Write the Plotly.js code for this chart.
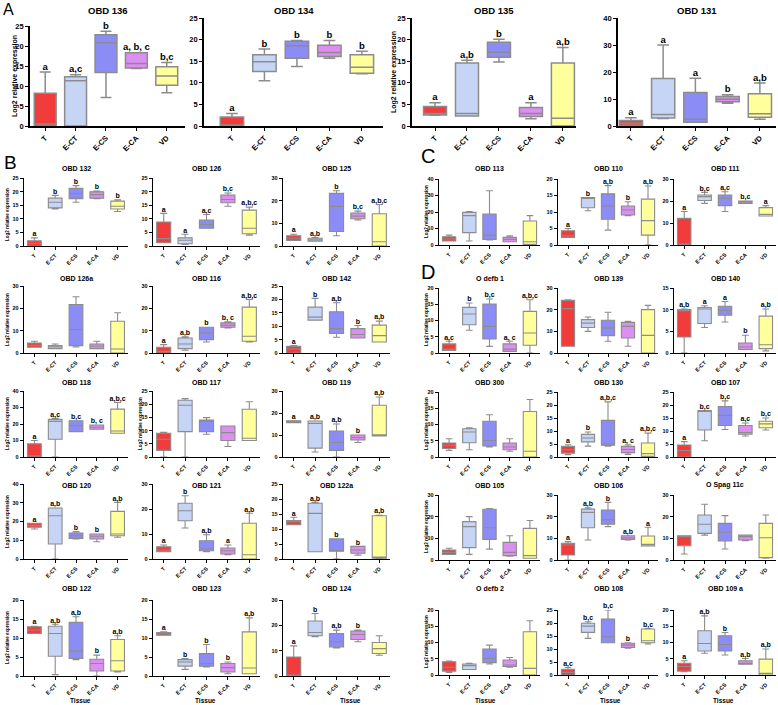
<!DOCTYPE html>
<html><head><meta charset="utf-8">
<script src="https://cdn.plot.ly/plotly-3.0.1.min.js"></script>
<style>html,body{margin:0;padding:0;background:#fff}</style>
</head><body><div id="chart" style="width:778px;height:705px"></div>
<script>
const categories = ['T', 'E-CT', 'E-CS', 'E-CA', 'VD'];
const genes = ['OBD 136','OBD 134','OBD 135','OBD 131',
  'OBD 132','OBD 126','OBD 125','OBD 126a','OBD 116','OBD 142','OBD 118','OBD 117','OBD 119',
  'OBD 120','OBD 121','OBD 122a','OBD 122','OBD 123','OBD 124',
  'OBD 113','OBD 110','OBD 111',
  'O defb 1','OBD 139','OBD 140','OBD 300','OBD 130','OBD 107','OBD 105','OBD 106','O Spag 11c',
  'O defb 2','OBD 108','OBD 109 a'];
const yMax = [25,25,25,40, 25,25,30,30,30,25,40,25,30,40,30,25,20,20,30, 40,20,30, 20,30,15,20,25,25,30,30,30,20,25,20];
const yStep = [5,5,5,10, 5,5,10,10,10,5,10,5,10,10,10,5,5,5,10, 10,5,10, 5,10,5,5,5,5,10,10,10,5,5,5];

// whisker low, Q1, median, Q3, whisker high — one row per gene, columns follow categories
const whiskerLow = [
  [0,0,7.1,14.4,8.3],[0,10.5,13.8,15.7,12.1],[2.5,2.3,14.8,1.7,0],[0,2.8,1.4,8.4,2.5],
  [0,13.6,16.1,17.4,12.7],[1.2,0.6,6.5,14.6,4.0],[2.5,2.1,4.5,11.5,0],[2.55,1.95,2.7,1.95,0],
  [0,1.2,4.95,11.25,4.95],[0,12.25,5.9,5.6,4.1],[0,0,15.4,16.8,14.4],[0,0,8.6,4,6.25],
  [15.6,2.25,0,6.6,9.6],[16,0,10.7,9.2,11.6],[2.9,12.4,2.9,1.7,0],[11.4,2.4,0,1.3,0],
  [11.2,0.35,4.3,0,1.05],[10.75,1.75,2.4,0.6,0.6],[0,15.5,11.1,13.5,8.2],
  [2.4,2.4,3,2,0.4],[2.3,10.4,4.5,8.9,0],[0,18.9,15.2,18.9,13.2],
  [0.8,7.0,2.05,0.5,0],[3.1,10,5.4,3.1,0],[0,5.9,7.15,0.8,0.5],[2.05,2.25,3.1,1.75,0],
  [0.9,4.2,4.2,1.0,0],[0,6.25,10.6,8.1,10.4],[2.6,2.6,5,1.8,0.8],[0,9.2,15.4,9.2,6.5],
  [2.8,11.5,5.1,8.9,0.8],[0.8,1.7,3.4,2.4,0],[0,14.1,12.4,10.3,11.9],[1.0,6.7,6.15,3.3,0]];
const quart1 = [
  [0,0,13.4,14.5,10.2],[0,12.6,15.7,16.1,12.2],[2.55,2.3,15.9,2.2,0],[0.25,3.0,1.4,9.0,3.2],
  [0,14,17.4,17.6,13.6],[1.2,0.85,6.5,15.9,4.5],[2.5,2.1,6.4,12,0],[2.55,1.95,3.3,1.95,0],
  [0,1.95,6,11.55,5.25],[0,12.25,7.25,5.6,4.1],[0,10.8,15.4,16.8,14.4],[2.5,9.6,9.6,6.25,6.25],
  [15.6,4.05,3,7.8,9.6],[16.9,8,11,10.7,12.4],[2.9,15.3,3.3,2,0],[11.4,2.4,2.6,1.9,0.3],
  [11.2,5.2,4.6,1.3,1.3],[10.75,2.6,2.6,1.05,0.6],[0,15.9,11.5,14.4,8.9],
  [2.4,7.5,3.4,2,0.4],[2.3,11.3,7.8,9.1,3],[0,20.2,17.9,18.9,13.2],
  [0.8,8.7,4.3,0.5,2.4],[3.1,11.8,8,6.9,0],[3.7,6.8,8.7,0.8,1.0],[2.6,4.4,3.4,2.25,0],
  [1.5,5.8,4.5,1.7,0.25],[0,10.4,12.1,8.75,11.25],[2.6,5.7,9.5,2,0.8],[2.3,14.9,16.5,9.5,6.5],
  [6.6,12.3,8.8,9.2,1.1],[1.2,1.7,3.8,2.6,0],[0,16.4,12.4,10.6,12.4],[1.2,7.4,7.4,3.3,0]];
const medians = [
  [0.5,11.3,20.8,15.6,12.5],[0.2,14.9,18.6,17.0,13.6],[2.9,2.9,17.1,2.9,1.8],[1.0,4.3,2.5,9.9,4.5],
  [0.9,16.1,19.3,18.9,14.6],[2.7,2.1,7.9,17.1,6.5],[3.4,2.7,17.5,13.2,1.9],[3.45,2.7,10.5,3.0,1.8],
  [0.75,4.05,9,12.45,7.5],[1.5,13.4,9.1,6.9,6.5],[0.8,21.6,19,18,15.8],[6.75,19.6,13.6,9.25,7.1],
  [16,15.3,6.6,8.85,9.75],[17.8,23.1,12.4,12.1,13.3],[3.6,19.3,4,3.3,1.7],[12.4,15.2,2.8,3,0.6],
  [12.1,11.2,6.6,3.3,4.0],[11.1,3.7,3.3,2.2,2.1],[0.3,17.2,13.5,16.4,10.8],
  [3.6,17.8,6,3.4,2],[2.8,14.3,11.8,10.6,7.4],[0.3,22,21.2,19.7,13.9],
  [1.0,12,8.2,1.2,6.15],[20.5,13.8,11.5,12.3,8.15],[9.8,10.15,9.8,1.4,1.9],[3.6,7.7,5.1,3.1,1.75],
  [2.8,7.3,5,2.9,1.3],[2.5,17.5,16,9.4,12.75],[3.5,15.4,14.9,3.5,2],[6.9,22,18.5,10.3,7.2],
  [10.8,16.5,12.8,10.8,10.3],[2.4,2.9,5.1,3.1,2.05],[1,18.8,14.7,11.5,13.2],[2.6,9.7,9.4,3.4,0.5]];
const quart3 = [
  [8.2,12.3,22.8,18.3,14.8],[2.1,16.5,19.6,18.7,16.5],[4.5,14.6,19.4,4.3,14.6],[2.0,17.6,12.4,10.9,11.9],
  [1.9,17.6,21.2,19.9,16.5],[8.8,3.0,9.5,18.7,13.2],[4.5,3.4,23.2,14.5,14.2],[4.5,3.3,21.7,4.05,14.25],
  [2.55,6.75,11.55,13.5,20.55],[2.5,17.1,15.4,9.1,10.4],[8,22.8,22,19.4,29],[9,21.5,14,11.75,18.1],
  [16.5,16.35,11.85,10,23.55],[19,27.2,13.9,13.3,25.4],[4.9,22.3,7.3,4.4,14.3],[12.8,18.6,6.7,4.2,14.4],
  [12.95,13.1,14.1,4.4,9.6],[11.45,4.3,5.9,3.3,11.6],[7.5,21.7,16.8,17.7,13.2],
  [5,19.8,18.8,4.6,14.5],[4.3,14.4,15.5,11.8,13.9],[12.1,22.7,22.7,20,17],
  [2.8,14.05,15.1,2.8,12.8],[24.3,15.4,15.1,14.15,20],[10,10.5,10.8,2.3,8.5],[4.3,8.7,11,4.3,14],
  [4.1,8.7,14.1,4.1,5.4],[4.6,17.9,19.4,12.1,13.75],[4.6,17.7,23.4,8.15,14.6],[7.7,23.5,23.1,11.2,11.1],
  [11.2,20.8,16.9,11.5,16.9],[4.1,3.4,8,4.6,13.3],[2.2,19.9,21.5,12.2,17.7],[3.6,13.6,12.1,4.4,4.9]];
const whiskerHigh = [
  [13.5,12.8,23.7,18.3,15.9],[2.9,17.8,19.8,19.8,17.3],[5.4,15.2,20.1,5.4,18.2],[3.1,30,17.7,11.6,15.9],
  [3.0,18.6,22.2,20.2,17],[12.0,4.3,11.6,19.5,14.3],[5.2,3.7,24.4,15.4,18.3],[5.25,4.0,25.2,5.25,18],
  [3.75,7.2,11.55,13.95,24],[2.75,20.4,18.75,10.25,11.9],[10,23.4,22,19.4,33],[9.4,22.1,14.9,11.75,20.9],
  [16.5,16.35,15,10,27.3],[19,27.2,14.6,13.3,30.2],[5.6,25.3,9.7,5.6,18.3],[13.9,18.9,6.7,4.2,14.6],
  [13.1,13.6,15.6,5.5,10.6],[11.6,4.6,8.3,3.7,15.3],[11.9,24.7,18.1,18.1,15.9],
  [6,20.2,32.9,5.5,17.8],[5,14.4,18,13.1,17.9],[15.2,23.9,24.2,20,17.9],
  [3.6,15.4,16.6,3.6,16.4],[24.6,16.6,18.8,14.6,22],[10.15,10.9,11.9,4.1,10.15],[5.6,9,13,5.6,17.7],
  [4.7,9.6,21.2,4.7,9.2],[5.9,17.9,21.6,13.1,15],[5.4,20,23.8,11.2,18.2],[8.5,24.15,26.6,11.2,15.1],
  [11.2,25.7,20.5,11.5,20.8],[4.3,3.6,9.2,5.4,16.7],[2.9,20.5,25,12.4,17.9],[4.4,18.2,13.1,5.1,8]];
const sigLetters = [
  ['a','a,c','b','a, b, c','b,c'],['a','b','b','b','b'],['a','a,b','b','a','a,b'],['a','a','a','b','a,b'],
  ['a','b','b','b','b'],['a','a','a,c','b,c','a,b,c'],['a','a,b','b','b,c','a,b,c'],['','','','',''],
  ['a','a,b','b','b, c','a,b,c'],['a','b','a,b','b','a,b'],['a','a,c','b,c','b, c','a,b,c'],['','','','',''],
  ['a','a,b','a,b','b','a,b'],['a','a,b','b','b','a,b'],['a','b','a,b','a','a,b'],['a','a,b','b','b','a,b'],
  ['a','a,b','a,b','b','a,b'],['a','b','b','b','a,b'],['a','b','a,b','b',''],
  ['','','','',''],['a','b','a,b','b','a,b'],['a','b,c','a,c','b,c','a'],
  ['a,c','b','b,c','a, c','a,b,c'],['','','','',''],['a,b','a','a','b','a,b'],['','','','',''],
  ['a','b','a,b,c','a, c','a,b,c'],['a','b,c','b,c','a,c','b,c'],['','','','',''],['a','a,b','b','a,b','a'],
  ['','','','',''],['','','','',''],['a,c','b,c','b,c','b','b,c'],['a','a,b','b','a,b','a,b']];
const boxColors = ['#f23c3c', '#c6d5f6', '#8c8cf6', '#dc8ef2', '#ffff9c'];

// ---------- placement (pixels) ----------
const W = 778, H = 705;
const FONT = 'Arial, "Liberation Sans", Helvetica, sans-serif';
const places = [];
places.push({xl:30, xr:185, yt:26, yb:126, xr_:[-0.5,4.6], big:true, ty:10});
places.push({xl:204, xr:383, yt:18, yb:126, xr_:[-0.86,4.65], big:true, ty:10});
places.push({xl:412, xr:576, yt:18, yb:126, xr_:[-0.72,4.41], big:true, ty:10});
places.push({xl:618, xr:776, yt:18, yb:126, xr_:[-0.4,4.5], big:true, ty:10});
const bCols = [[24,128],[153,260],[283,390]];
const bRows = [[178,246,168],[286,353,278],[391,457,382],[484,559,485],[600,676,588]];
bRows.forEach(r => bCols.forEach(c => places.push({xl:c[0], xr:c[1], yt:r[0], yb:r[1], xr_:[-0.5,4.5], big:false, ty:r[2]})));
const dCols = [[439,540],[558,658],[674,776]];
const dRows = [[179,245,168],[288,353,278],[392,457,382],[495,560,485],[610,675,588]];
dRows.forEach(r => dCols.forEach(c => places.push({xl:c[0], xr:c[1], yt:r[0], yb:r[1], xr_:[-0.5,4.5], big:false, ty:r[2]})));

const traces = [];
const layout = {
  width: W, height: H, autosize: false,
  margin: {l:0, r:0, t:0, b:0},
  paper_bgcolor: '#fff', plot_bgcolor: 'rgba(0,0,0,0)',
  showlegend: false, annotations: [], font: {family: FONT, color: '#000'}
};

genes.forEach((g, i) => {
  const p = places[i];
  const sfx = i === 0 ? '' : String(i + 1);
  const lw = p.big ? 1.8 : 1.3;
  for (let c = 0; c < categories.length; c++) {
    traces.push({
      type: 'box', x: [categories[c]],
      q1: [quart1[i][c]], median: [medians[i][c]], q3: [quart3[i][c]],
      lowerfence: [whiskerLow[i][c]], upperfence: [whiskerHigh[i][c]],
      xaxis: 'x' + sfx, yaxis: 'y' + sfx,
      fillcolor: boxColors[c], line: {color: '#8c8c8c', width: p.big ? 1.5 : 1.1},
      whiskerwidth: 0.5, width: p.big ? 0.72 : 0.66, boxpoints: false, hoverinfo: 'skip'
    });
  }
  // significance letters above the whiskers
  traces.push({
    type: 'scatter', mode: 'text', x: categories, y: whiskerHigh[i], text: sigLetters[i],
    textposition: 'top center', cliponaxis: false, hoverinfo: 'skip',
    xaxis: 'x' + sfx, yaxis: 'y' + sfx,
    textfont: {family: FONT, size: p.big ? 9.5 : 7, weight: 'bold', color: '#000000'}
  });
  const tf = {family: FONT, size: p.big ? 7.5 : 5.5, color: '#000', weight: 'bold'};
  layout['xaxis' + sfx] = {
    domain: [p.xl / W, p.xr / W], anchor: 'y' + sfx, type: 'category',
    categoryorder: 'array', categoryarray: categories, range: p.xr_,
    showline: true, linecolor: '#000', linewidth: lw, ticks: 'outside', ticklen: 3, tickwidth: 1,
    tickcolor: '#000', tickangle: -45, tickfont: tf, showgrid: false, zeroline: false, fixedrange: true
  };
  layout['yaxis' + sfx] = {
    domain: [1 - p.yb / H, 1 - p.yt / H], anchor: 'x' + sfx, range: [0, yMax[i]],
    tick0: 0, dtick: yStep[i], showline: true, linecolor: '#000', linewidth: lw,
    ticks: 'outside', ticklen: 3, tickwidth: 1, tickcolor: '#000', tickfont: tf,
    showgrid: false, zeroline: false, fixedrange: true
  };
  layout.annotations.push({
    xref: 'paper', yref: 'paper', x: (p.xl + p.xr) / 2 / W, y: 1 - p.ty / H,
    xanchor: 'center', yanchor: 'middle', showarrow: false, text: g,
    font: {family: FONT, size: p.big ? 9.5 : 7, weight: 'bold', color: '#000'}
  });
});

// y-axis titles
const yTitleSpots = [[15,76,7],[394,72,7],[7,215,4.5],[7,320,4.5],[7,424,4.5],[140,424,4.5],[7,522,4.5],[7,638,4.5],
  [426,212,4.5],[426,320,4.5],[426,424,4.5],[426,527,4.5],[426,642,4.5]];
yTitleSpots.forEach(s => layout.annotations.push({
  xref: 'paper', yref: 'paper', x: s[0] / W, y: 1 - s[1] / H, xanchor: 'center', yanchor: 'middle',
  textangle: -90, showarrow: false, text: 'Log2 relative expression',
  font: {family: FONT, size: s[2], weight: 'bold', color: '#000'}
}));
// x-axis titles
[80, 205, 350, 485, 610, 723].forEach(x => layout.annotations.push({
  xref: 'paper', yref: 'paper', x: x / W, y: 1 - 700 / H, xanchor: 'center', yanchor: 'middle',
  showarrow: false, text: 'Tissue', font: {family: FONT, size: 6.5, weight: 'bold', color: '#000'}
}));
// panel letters
[['A',1,9,16],['B',2,162,19],['C',419,156,20],['D',419,272,20]].forEach(s => layout.annotations.push({
  xref: 'paper', yref: 'paper', x: s[1] / W, y: 1 - s[2] / H, xanchor: 'left', yanchor: 'middle',
  showarrow: false, text: s[0], font: {family: FONT, size: s[3], color: '#000'}
}));

Plotly.newPlot('chart', traces, layout, {staticPlot: true, displayModeBar: false});
</script></body></html>
